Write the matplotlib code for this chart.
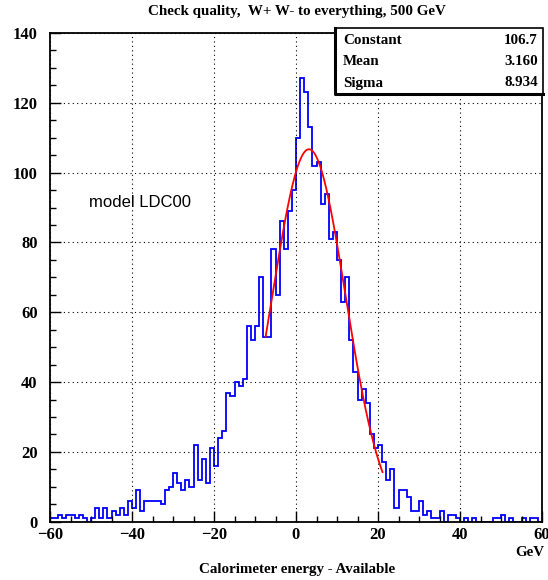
import numpy as np
import matplotlib.pyplot as plt
from matplotlib.ticker import MultipleLocator

# calorimeter energy - available, 1 GeV bins from -60 to 60
bin_lo = -60
bin_hi = 60
counts = [
    1, 1, 2, 1, 2, 2, 1, 2, 1, 0,          # -60 .. -51
    1, 4, 1, 4, 1, 3, 2, 4, 2, 6,          # -50 .. -41
    4, 9, 3, 6, 6, 6, 6, 5, 9, 10,         # -40 .. -31
    14, 11, 9, 12, 10, 22, 12, 18, 11, 21,  # -30 .. -21
    16, 24, 26, 37, 36, 40, 39, 41, 56, 52,  # -20 .. -11
    56, 70, 53, 53, 78, 65, 86, 78, 89, 95,  # -10 .. -1
    110, 127, 123, 113, 102, 103, 91, 94, 81, 83,  # 0 .. 9
    75, 63, 70, 52, 43, 35, 38, 34, 25, 21,  # 10 .. 19
    22, 17, 12, 15, 4, 9, 9, 7, 3, 3,      # 20 .. 29
    6, 2, 3, 1, 1, 3, 0, 2, 2, 1,          # 30 .. 39
    0, 1, 0, 1, 0, 0, 0, 0, 1, 1,          # 40 .. 49
    2, 0, 1, 0, 0, 1, 0, 1, 1, 0,          # 50 .. 59
]

# gaussian fit result
fit_const = 106.7
fit_mean = 3.160
fit_sigma = 8.934
fit_range = (-7.4, 21.1)

edges = np.arange(bin_lo, bin_hi + 1, 1)

serif = ['Liberation Serif', 'DejaVu Serif']

fig = plt.figure(figsize=(5.48, 5.80), dpi=100)
ax = fig.add_axes([50 / 548, 1 - 521.7 / 580, 492 / 548, (521.7 - 33) / 580])

ax.stairs(counts, edges, color='#0000ff', lw=1.3, baseline=None)

xf = np.linspace(fit_range[0], fit_range[1], 200)
yf = fit_const * np.exp(-0.5 * ((xf - fit_mean) / fit_sigma) ** 2)
ax.plot(xf, yf, color='#ff0000', lw=1.3)

ax.set_xlim(-60, 60)
ax.set_ylim(0, 140)
ax.xaxis.set_major_locator(MultipleLocator(20))
ax.xaxis.set_minor_locator(MultipleLocator(5))
ax.yaxis.set_major_locator(MultipleLocator(20))
ax.yaxis.set_minor_locator(MultipleLocator(5))
ax.grid(True, which='major', color='black', lw=0.8, linestyle=(0, (1, 3)))
ax.tick_params(which='both', direction='in', top=False, right=False, color='black')
ax.tick_params(which='major', length=8, width=1)
ax.tick_params(which='minor', length=4, width=1)
ax.tick_params(axis='x', pad=4)
ax.tick_params(axis='y', pad=9)
for lab in ax.get_xticklabels() + ax.get_yticklabels():
    lab.set_family(serif)
    lab.set_fontweight('bold')
    lab.set_fontsize(12)
for s in ax.spines.values():
    s.set_linewidth(1.3)

fig.text(297 / 548, 1 - 12 / 580, 'Check quality,  W+ W- to everything, 500 GeV',
         ha='center', va='center', family=serif, fontweight='bold', fontsize=10.8)
fig.text(297 / 548, 1 - 570 / 580, 'Calorimeter energy - Available',
         ha='center', va='center', family=serif, fontweight='bold', fontsize=10.8)
fig.text(530 / 548, 1 - 553 / 580, 'GeV',
         ha='center', va='center', family=serif, fontweight='bold', fontsize=10.8)

ax.text(-50.6, 91.3, 'model LDC00', ha='left', va='center',
        family=['Liberation Sans', 'DejaVu Sans'], fontsize=12)

# stats box
bx0, by0, bx1, by1 = 335 / 548, 1 - 93.5 / 580, 543 / 548, 1 - 28 / 580
fig.patches.append(plt.Rectangle((bx0, by0), bx1 - bx0, by1 - by0, transform=fig.transFigure,
                                 facecolor='white', edgecolor='black', lw=1.2, zorder=5))
fig.lines.append(plt.Line2D([bx0, bx0, bx1], [by1, by0, by0], transform=fig.transFigure,
                            color='black', lw=2.2, zorder=6))
rows = [('Constant', '106.7'), ('Mean', '3.160'), ('Sigma', '8.934')]
for i, (name, val) in enumerate(rows):
    yy = 1 - (40 + 21.5 * i) / 580
    fig.text(343 / 548, yy, name, ha='left', va='center', family=serif,
             fontweight='bold', fontsize=10.8, zorder=7)
    fig.text(538 / 548, yy, val, ha='right', va='center', family=serif,
             fontweight='bold', fontsize=10.8, zorder=7)

fig.savefig('out.png', dpi=100)
